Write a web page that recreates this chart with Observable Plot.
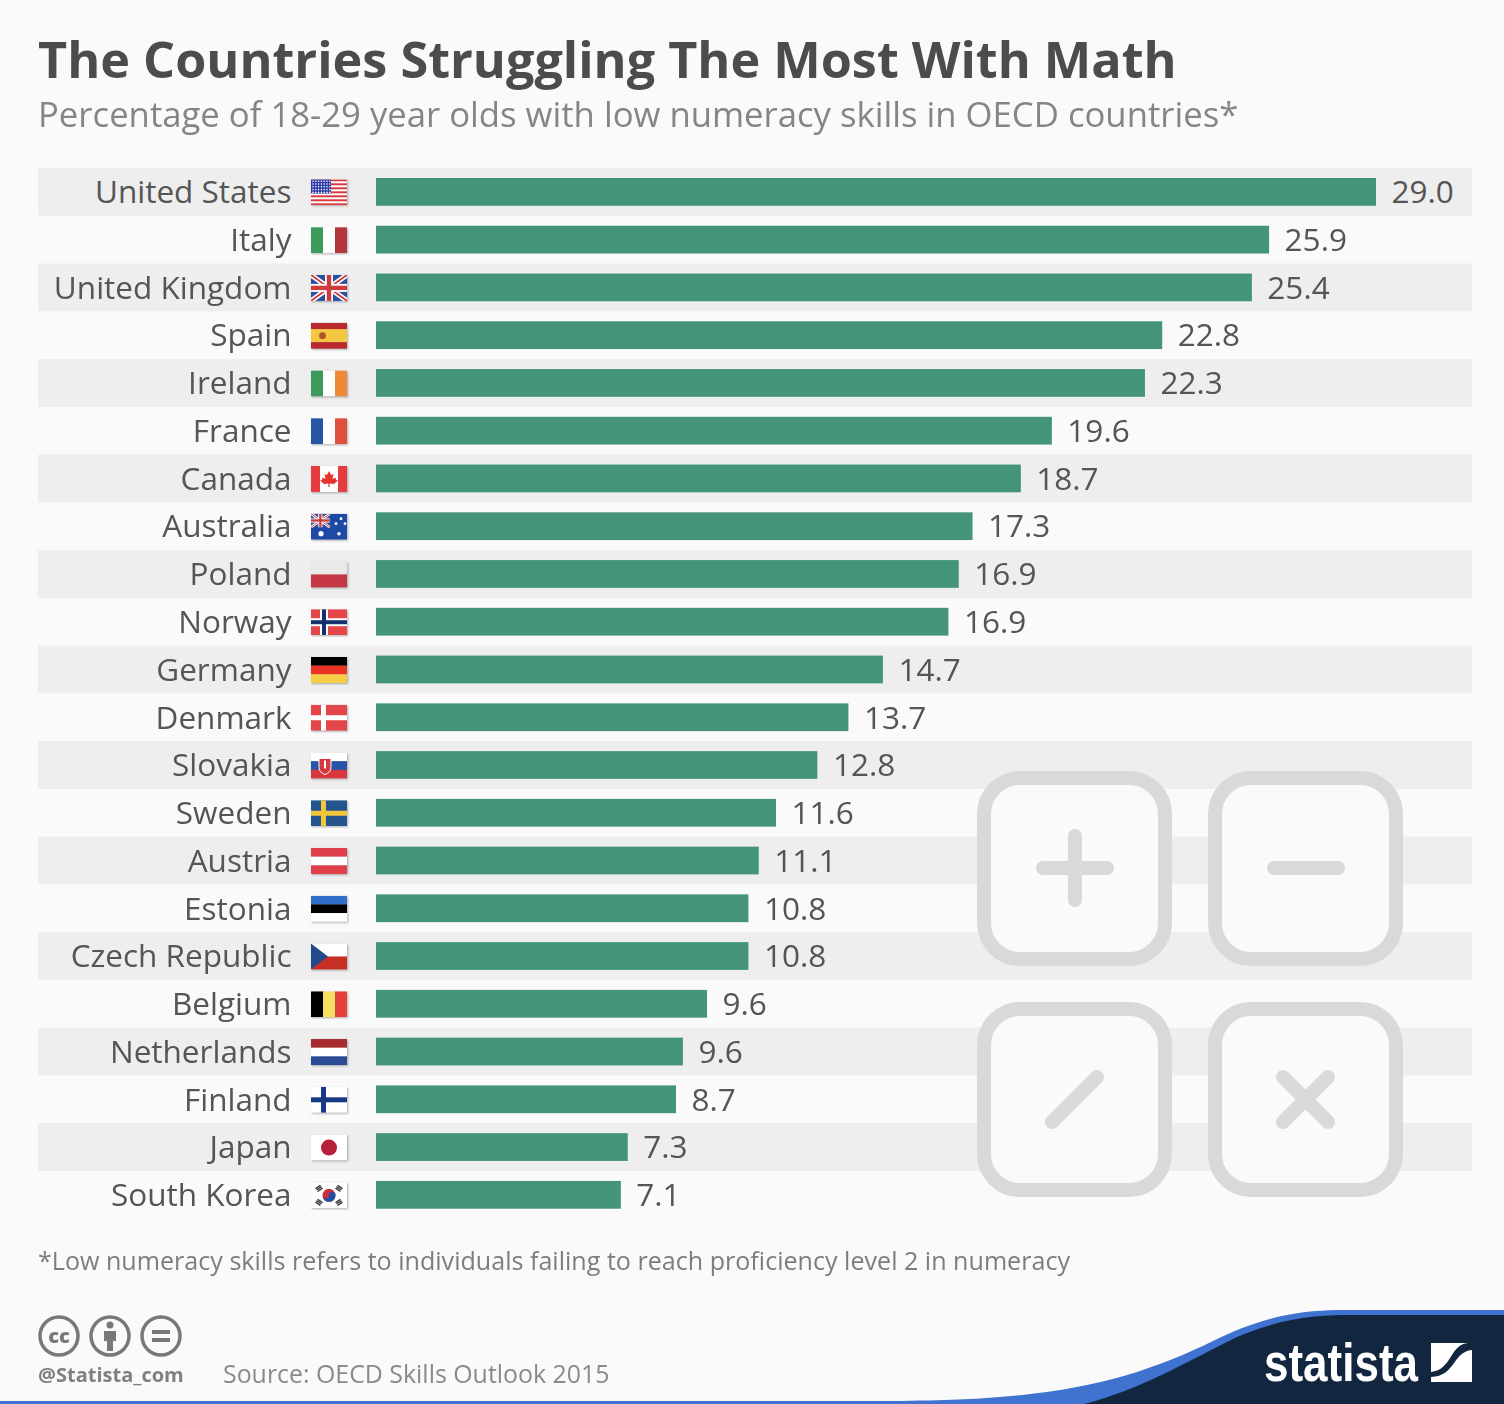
<!DOCTYPE html>
<html>
<head>
<meta charset="utf-8">
<script src="https://cdn.jsdelivr.net/npm/d3@7"></script>
<script src="https://cdn.jsdelivr.net/npm/@observablehq/plot@0.6"></script>
<style>
html,body{margin:0;padding:0;background:#fafafa;width:1504px;height:1404px;overflow:hidden;font-family:"Open Sans",sans-serif}
#page{position:relative;width:1504px;height:1404px;filter:blur(.45px)}
#header{position:relative;height:160px}
#title{position:absolute;left:38px;top:25px;font-size:50.35px;line-height:68px;font-weight:700;color:#4c4c4c;white-space:nowrap;margin:0}
#subtitle{position:absolute;left:38px;top:91px;font-size:34.7px;line-height:46px;color:#858585;white-space:nowrap}
#chart{height:1060px}
#footer{position:relative;height:184px}
#note{position:absolute;left:38px;top:22px;font-size:25.1px;line-height:36px;color:#7d7d7d;white-space:nowrap}
#source{position:absolute;left:223px;top:135px;font-size:24.9px;line-height:36px;color:#8a8a8a;white-space:nowrap}
#handle{position:absolute;left:38px;top:141px;font-size:20px;line-height:28px;font-weight:700;color:#808080;white-space:nowrap}
#deco{position:absolute;left:0;top:0}
#note,#source,#handle{z-index:2}
</style>
</head>
<body>
<div id="page">
  <div id="header">
    <h1 id="title">The Countries Struggling The Most With Math</h1>
    <div id="subtitle">Percentage of 18-29 year olds with low numeracy skills in OECD countries*</div>
  </div>
  <div id="chart"></div>
  <div id="footer">
    <svg id="deco" width="1504" height="184" viewBox="0 1220 1504 184" xmlns="http://www.w3.org/2000/svg">
      <rect x="0" y="1401" width="1504" height="3" fill="#3f73cf"/>
      <path d="M890,1401 C950,1400.5 975,1399 1000,1397 C1090,1390 1150,1372 1215,1340 C1265,1316 1300,1310 1345,1310 L1504,1310 L1504,1404 L890,1404 Z" fill="#3f73cf"/>
      <path d="M1084,1404 C1140,1390 1190,1360 1235,1338 C1280,1319 1310,1315 1350,1315 L1504,1315 L1504,1404 Z" fill="#12263f"/>
      <text x="1264" y="1381" font-family="Liberation Sans Narrow, Liberation Sans" font-weight="700" font-size="53" fill="#fff" textLength="154" lengthAdjust="spacingAndGlyphs">statista</text>
      <path d="M1431,1343 H1468 C1450,1344 1452,1370 1431,1372 Z M1472,1350 V1382 H1431 V1377 C1456,1376 1452,1352 1472,1350 Z" fill="#fff"/>
      <g fill="none" stroke="#787878" stroke-width="3.5">
        <circle cx="59" cy="1336" r="19"/><circle cx="110" cy="1336" r="19"/><circle cx="161" cy="1336" r="19"/>
      </g>
      <text x="59" y="1343" text-anchor="middle" font-family="Open Sans" font-weight="800" font-size="20" fill="#787878">cc</text>
      <circle cx="110" cy="1325" r="3.5" fill="#787878"/>
      <path d="M104,1331 H116 V1341 H113 V1351 H107 V1341 H104 Z" fill="#787878"/>
      <rect x="152" y="1330" width="18" height="4" fill="#787878"/><rect x="152" y="1338" width="18" height="4" fill="#787878"/>
    </svg>
    <div id="note">*Low numeracy skills refers to individuals failing to reach proficiency level 2 in numeracy</div>
    <div id="handle">@Statista_com</div>
    <div id="source">Source: OECD Skills Outlook 2015</div>
  </div>
</div>
<script>
const countries = ["United States","Italy","United Kingdom","Spain","Ireland","France","Canada","Australia","Poland","Norway","Germany","Denmark","Slovakia","Sweden","Austria","Estonia","Czech Republic","Belgium","Netherlands","Finland","Japan","South Korea"];
// bar lengths as drawn in the picture (Norway and the Netherlands are drawn shorter than their labels)
const barLengths = [29.0,25.9,25.4,22.8,22.3,19.6,18.7,17.3,16.9,16.6,14.7,13.7,12.8,11.6,11.1,10.8,10.8,9.6,8.9,8.7,7.3,7.1];
const valueLabels = ["29.0","25.9","25.4","22.8","22.3","19.6","18.7","17.3","16.9","16.9","14.7","13.7","12.8","11.6","11.1","10.8","10.8","9.6","9.6","8.7","7.3","7.1"];

const barColor = "#44947a", bandColor = "#eeeeee", textColor = "#555555";

const hs = (...c) => { const h = 26 / c.length; return c.map((f, i) => `<rect y="${i * h}" width="36" height="${h + .2}" fill="${f}"/>`).join(""); };
const vs = (...c) => { const w = 36 / c.length; return c.map((f, i) => `<rect x="${i * w}" width="${w + .2}" height="26" fill="${f}"/>`).join(""); };
const nordic = (bg, out, inn) => `<rect width="36" height="26" fill="${bg}"/>` +
  (inn ? `<rect x="9" width="8" height="26" fill="${out}"/><rect y="9" width="36" height="8" fill="${out}"/><rect x="11" width="4" height="26" fill="${inn}"/><rect y="11" width="36" height="4" fill="${inn}"/>`
       : `<rect x="10" width="5" height="26" fill="${out}"/><rect y="10.5" width="36" height="5" fill="${out}"/>`);
const union = `<rect width="36" height="26" fill="#2b4f9e"/><path d="M0,0L36,26M36,0L0,26" stroke="#fff" stroke-width="5"/><path d="M0,0L36,26M36,0L0,26" stroke="#cf3a3f" stroke-width="1.8"/><rect x="14" width="8" height="26" fill="#fff"/><rect y="9" width="36" height="8" fill="#fff"/><rect x="15.8" width="4.4" height="26" fill="#cf3a3f"/><rect y="10.8" width="36" height="4.4" fill="#cf3a3f"/>`;
const usStripes = Array.from({length: 13}, (_, i) => i % 2 ? "#fff" : "#e0383e");
const usStars = d3.range(5).flatMap(r => d3.range(7).map(c => `<circle cx="${2 + c * 2.8}" cy="${1.8 + r * 2.8}" r=".8" fill="#fff"/>`)).join("");
const trigram = (x, y, a) => `<g transform="translate(${x},${y}) rotate(${a})" fill="#333"><rect x="-3" y="-2.4" width="6" height="1.3"/><rect x="-3" y="-.6" width="6" height="1.3"/><rect x="-3" y="1.2" width="6" height="1.3"/></g>`;

const flagArt = {
  "United States": hs(...usStripes) + `<rect width="20" height="14" fill="#2b3aa8"/>` + usStars,
  "Italy": vs("#3c9a5c", "#ffffff", "#b5353d"),
  "United Kingdom": union,
  "Spain": hs("#b8282c", "#f5c63f", "#f5c63f", "#b8282c") + `<circle cx="11.5" cy="13" r="3.4" fill="#b5522a"/>`,
  "Ireland": vs("#3c9a5c", "#ffffff", "#ee8a35"),
  "France": vs("#2655a3", "#ffffff", "#e0503f"),
  "Canada": `<rect width="36" height="26" fill="#fff"/><rect width="9" height="26" fill="#e53c3f"/><rect x="27" width="9" height="26" fill="#e53c3f"/><path d="M18,5 L20,9 L22.5,8 L21.5,13 L24.5,11.5 L25,14 L27,14.5 L23,18 L18.6,17.5 L18.6,21 L17.4,21 L17.4,17.5 L13,18 L9,14.5 L11,14 L11.5,11.5 L14.5,13 L13.5,8 L16,9 Z" fill="#e5352a"/>`,
  "Australia": `<rect width="36" height="26" fill="#1e4aa6"/><g transform="scale(.52)">${union}</g>` +
    [[10, 20, 2.6], [30, 5, 1.4], [25, 10, 1.4], [34, 10, 1.4], [28, 20, 1.8]].map(s => `<circle cx="${s[0]}" cy="${s[1]}" r="${s[2]}" fill="#fff"/>`).join(""),
  "Poland": hs("#ebe9e7", "#c53646"),
  "Norway": nordic("#e34548", "#ffffff", "#16306d"),
  "Germany": hs("#000000", "#ea3323", "#f6cd46"),
  "Denmark": nordic("#e34548", "#ffffff"),
  "Slovakia": hs("#ffffff", "#2654a8", "#d9363e") + `<path d="M8,6 H20 V15 Q20,20 14,22 Q8,20 8,15 Z" fill="#d9363e" stroke="#fff"/><rect x="13" y="8" width="2" height="8" fill="#fff"/>`,
  "Sweden": nordic("#24558f", "#f3c63a"),
  "Austria": hs("#e0404a", "#ffffff", "#e0404a"),
  "Estonia": hs("#2f6fc9", "#000000", "#ffffff"),
  "Czech Republic": hs("#ffffff", "#c82f25") + `<path d="M0,0 L17,13 L0,26 Z" fill="#234a8a"/>`,
  "Belgium": vs("#000000", "#f7dd5f", "#e5403c"),
  "Netherlands": hs("#a62c30", "#ffffff", "#2a4b94"),
  "Finland": nordic("#ffffff", "#173a84"),
  "Japan": `<rect width="36" height="26" fill="#fff"/><circle cx="18" cy="13" r="8" fill="#b5203a"/>`,
  "South Korea": `<rect width="36" height="26" fill="#fff"/><circle cx="18" cy="13" r="6.5" fill="#c8303c"/><path d="M11.5,13 A3.25,3.25 0 0 0 18,13 A3.25,3.25 0 0 1 24.5,13 A6.5,6.5 0 0 1 11.5,13 Z" fill="#1f4fa5"/>` +
    trigram(8, 6, -35) + trigram(28, 6, 35) + trigram(8, 20, 35) + trigram(28, 20, -35)
};
const flagSrc = name => "data:image/svg+xml," + encodeURIComponent(
  `<svg xmlns="http://www.w3.org/2000/svg" width="36" height="26" viewBox="0 0 36 26">${flagArt[name]}</svg>`);

const rows = countries.map((country, i) => ({country, length: barLengths[i], label: valueLabels[i], flag: flagSrc(country), striped: i % 2 === 0}));

// decorative calculator keys, in page pixels relative to the top of the SVG
const keys = () => {
  const top = 160;
  const g = d3.create("svg:g").attr("fill", "none").attr("stroke", "#d9d9d9").attr("stroke-width", 14).attr("stroke-linecap", "round");
  for (const [x, y] of [[984, 778], [1215, 778], [984, 1009], [1215, 1009]])
    g.append("rect").attr("x", x).attr("y", y - top).attr("width", 181).attr("height", 181).attr("rx", 36).attr("fill", "#fafafa");
  const seg = [[1043, 868, 1107, 868], [1075, 836, 1075, 900], [1274, 868, 1338, 868],
               [1052, 1122, 1097, 1077], [1283, 1077, 1328, 1122], [1283, 1122, 1328, 1077]];
  for (const [a, b, c, d] of seg)
    g.append("line").attr("x1", a).attr("y1", b - top).attr("x2", c).attr("y2", d - top);
  return g.node();
};

const chart = Plot.plot({
  width: 1504,
  height: 1060,
  marginTop: 8,
  marginBottom: 1.3,
  marginLeft: 38,
  marginRight: 32,
  style: {background: "transparent", fontFamily: "Open Sans"},
  x: {domain: [-338 / (1000 / 29), 1096 / (1000 / 29)], axis: null},
  y: {domain: countries, padding: 0, round: false, axis: null},
  marks: [
    Plot.cell(rows.filter(d => d.striped), {y: "country", fill: bandColor}),
    keys,
    Plot.barX(rows, {x1: () => 0, x2: "length", y: "country", fill: barColor, insetTop: 10, insetBottom: 10}),
    Plot.image(rows, {x: () => 0, y: "country", dx: -47.5, src: "flag", width: 36, height: 26, imageFilter: "drop-shadow(1px 1px 1px rgba(0,0,0,.3))"}),
    Plot.text(rows, {x: () => 0, y: "country", text: "country", dx: -85, dy: 0.7, textAnchor: "end", fontSize: 31.5, fill: textColor}),
    Plot.text(rows, {x: "length", y: "country", text: "label", dx: 15, dy: 0.7, textAnchor: "start", fontSize: 31.5, fill: textColor})
  ]
});
document.getElementById("chart").appendChild(chart);
</script>
</body>
</html>
